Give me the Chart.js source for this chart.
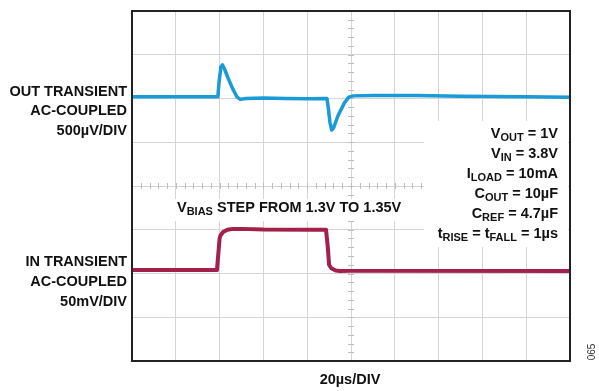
<!DOCTYPE html>
<html>
<head>
<meta charset="utf-8">
<script src="https://cdn.jsdelivr.net/npm/chart.js@4.4.0/dist/chart.umd.min.js"></script>
<style>
  html, body { margin: 0; padding: 0; background: #fff; }
  #wrap { width: 599px; height: 391px; position: relative; }
</style>
</head>
<body>
<div id="wrap"><canvas id="scope"></canvas></div>
<script>
// time axis in divisions (20us/DIV), level in divisions (0 = bottom edge)
const outX = [0, 1.96, 1.99, 2.03, 2.065, 2.11, 2.2, 2.3, 2.4, 2.47, 2.6, 3.0, 3.5, 4.0, 4.45, 4.48, 4.52, 4.56, 4.6, 4.7, 4.85, 4.95, 5.05, 5.5, 6.5, 7.5, 9.0, 10];
const outY = [6.04, 6.04, 6.4, 6.72, 6.77, 6.68, 6.45, 6.22, 6.03, 5.98, 6.0, 6.01, 6.0, 5.995, 6.0, 5.8, 5.45, 5.28, 5.32, 5.6, 5.9, 6.03, 6.06, 6.07, 6.07, 6.05, 6.04, 6.03];

const inX = [0, 1.94, 2.0, 2.02, 2.08, 2.18, 2.3, 2.5, 3.0, 4.0, 4.43, 4.47, 4.5, 4.55, 4.65, 4.75, 5.0, 10];
const inY = [2.08, 2.08, 2.8, 2.87, 2.95, 3.0, 3.02, 3.02, 3.005, 3.0, 3.0, 2.6, 2.2, 2.12, 2.07, 2.055, 2.06, 2.06];

const outLabel = ['OUT TRANSIENT', 'AC-COUPLED', '500µV/DIV'];
const inLabel = ['IN TRANSIENT', 'AC-COUPLED', '50mV/DIV'];
const conditions = [
    [['V', ''], ['OUT', 'sub'], [' = 1V', '']],
    [['V', ''], ['IN', 'sub'], [' = 3.8V', '']],
    [['I', ''], ['LOAD', 'sub'], [' = 10mA', '']],
    [['C', ''], ['OUT', 'sub'], [' = 10µF', '']],
    [['C', ''], ['REF', 'sub'], [' = 4.7µF', '']],
    [['t', ''], ['RISE', 'sub'], [' = t', ''], ['FALL', 'sub'], [' = 1µs', '']]
];
const stepLabel = [['V', ''], ['BIAS', 'sub'], [' STEP FROM 1.3V TO 1.35V', '']];

const toPoints = (xs, ys) => xs.map((x, i) => ({ x: x, y: ys[i] }));

const BOLD = 'bold 14.5px "Liberation Sans", Arial, sans-serif';
const SUB = 'bold 11px "Liberation Sans", Arial, sans-serif';

function richWidth(ctx, parts) {
    let w = 0;
    parts.forEach(p => { ctx.font = p[1] ? SUB : BOLD; w += ctx.measureText(p[0]).width; });
    return w;
}
function drawRich(ctx, parts, x, y) {
    let cx = x;
    parts.forEach(p => {
        ctx.font = p[1] ? SUB : BOLD;
        ctx.fillText(p[0], cx, p[1] ? y + 4 : y);
        cx += ctx.measureText(p[0]).width;
    });
}

const scopeDecor = {
    id: 'scopeDecor',
    beforeDatasetsDraw(chart) {
        const ctx = chart.ctx;
        const xs = chart.scales.x, ys = chart.scales.y;
        ctx.save();
        // minor ticks on the center lines
        ctx.strokeStyle = '#bdbdbd';
        ctx.lineWidth = 1;
        const cx = xs.getPixelForValue(5), cy = ys.getPixelForValue(4);
        ctx.beginPath();
        for (let v = 0; v <= 10; v += 0.2) {
            const px = Math.round(xs.getPixelForValue(v)) + 0.5;
            ctx.moveTo(px, cy - 3); ctx.lineTo(px, cy + 3);
        }
        for (let v = 0; v <= 8; v += 0.2) {
            const py = Math.round(ys.getPixelForValue(v)) + 0.5;
            ctx.moveTo(cx - 3, py); ctx.lineTo(cx + 3, py);
        }
        ctx.stroke();

        // white panel behind the test conditions
        ctx.fillStyle = '#fff';
        ctx.fillRect(424, 121, 144, 126);
        ctx.fillStyle = '#111';
        ctx.textBaseline = 'middle';
        conditions.forEach((parts, i) => {
            const w = richWidth(ctx, parts);
            drawRich(ctx, parts, 558 - w, 134 + i * 20);
        });

        // step label
        const sw = richWidth(ctx, stepLabel);
        ctx.fillStyle = '#fff';
        ctx.fillRect(174, 199, sw + 6, 22);
        ctx.fillStyle = '#111';
        drawRich(ctx, stepLabel, 177, 208);
        ctx.restore();
    },
    afterDatasetsDraw(chart) {
        const ctx = chart.ctx;
        const a = chart.chartArea;
        ctx.save();
        ctx.strokeStyle = '#222';
        ctx.lineWidth = 2;
        ctx.strokeRect(a.left, a.top, a.right - a.left, a.bottom - a.top);
        ctx.restore();
    },
    afterDraw(chart) {
        const ctx = chart.ctx;
        ctx.save();
        ctx.fillStyle = '#111';
        ctx.font = BOLD;
        ctx.textAlign = 'right';
        ctx.textBaseline = 'middle';
        outLabel.forEach((t, i) => ctx.fillText(t, 127, 91.5 + i * 19.5));
        inLabel.forEach((t, i) => ctx.fillText(t, 127, 262 + i * 20));
        ctx.textAlign = 'center';
        ctx.fillText('20µs/DIV', 350, 380);
        ctx.translate(592, 352);
        ctx.rotate(-Math.PI / 2);
        ctx.font = '10px "Liberation Sans", Arial, sans-serif';
        ctx.fillStyle = '#333';
        ctx.fillText('065', 0, 0);
        ctx.restore();
    }
};

new Chart(document.getElementById('scope'), {
    type: 'line',
    data: {
        datasets: [
            {
                label: 'OUT',
                data: toPoints(outX, outY),
                borderColor: '#1a9ad6',
                borderWidth: 3.5,
                borderJoinStyle: 'round',
                pointRadius: 0,
                tension: 0
            },
            {
                label: 'IN',
                data: toPoints(inX, inY),
                borderColor: '#a3204a',
                borderWidth: 4,
                borderJoinStyle: 'round',
                pointRadius: 0,
                tension: 0
            }
        ]
    },
    options: {
        responsive: true,
        maintainAspectRatio: false,
        animation: false,
        layout: { padding: { left: 132, right: 29, top: 11, bottom: 30 } },
        plugins: { legend: { display: false }, tooltip: { enabled: false } },
        scales: {
            x: {
                type: 'linear', min: 0, max: 10,
                ticks: { display: false, stepSize: 1 },
                grid: { color: '#d4d4d4', drawTicks: false, tickLength: 0 },
                border: { display: false }
            },
            y: {
                type: 'linear', min: 0, max: 8,
                ticks: { display: false, stepSize: 1 },
                grid: { color: '#d4d4d4', drawTicks: false, tickLength: 0 },
                border: { display: false }
            }
        }
    },
    plugins: [scopeDecor]
});
</script>
</body>
</html>
